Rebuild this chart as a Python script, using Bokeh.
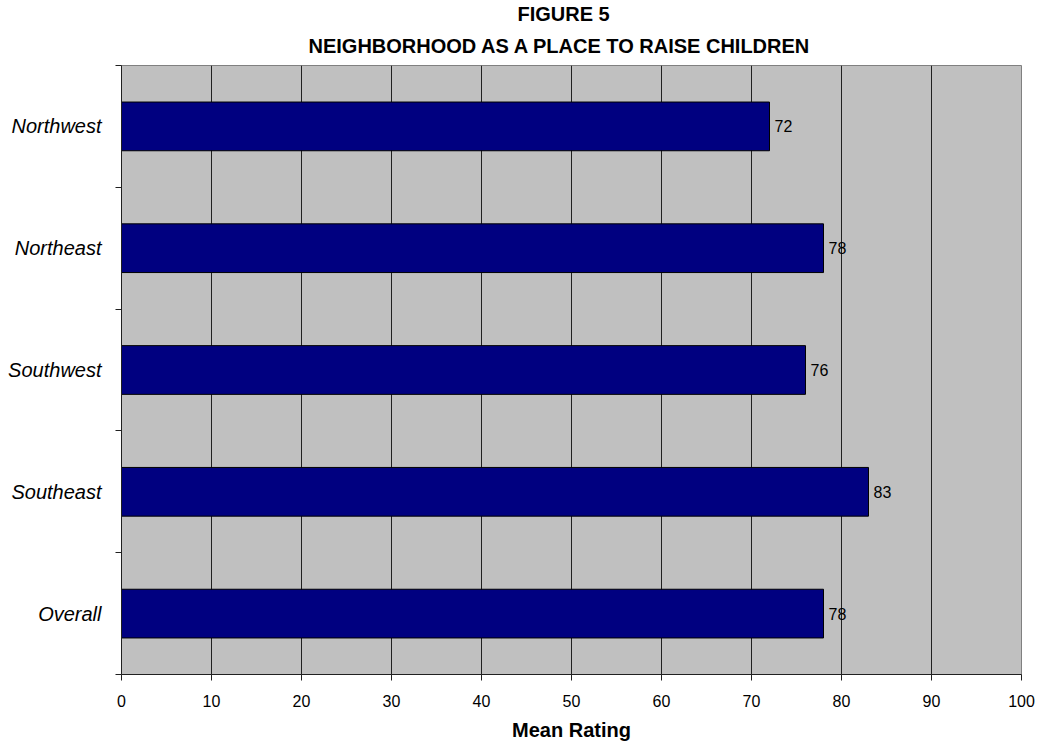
from bokeh.plotting import figure
from bokeh.models import FixedTicker, Title, ColumnDataSource, Range1d
from bokeh.core.properties import value
from bokeh.embed import file_html
from bokeh.resources import INLINE

categories = ["Northwest", "Northeast", "Southwest", "Southeast", "Overall"]
ratings = [72, 78, 76, 83, 78]
x_ticks = [0, 10, 20, 30, 40, 50, 60, 70, 80, 90, 100]
title_line1 = "FIGURE 5"
title_line2 = "NEIGHBORHOOD AS A PLACE TO RAISE CHILDREN"
x_label = "Mean Rating"

FONT = "Liberation Sans"
n = len(categories)
# top-to-bottom order: first category at top
ypos = [n - 1 - i for i in range(n)]
src = ColumnDataSource(dict(y=ypos, v=ratings, t=[str(r) for r in ratings]))

p = figure(width=1037, height=745, output_backend="svg", toolbar_location=None,
           x_range=Range1d(0, 100), y_range=Range1d(-0.5, n - 0.5),
           min_border_left=121, min_border_right=16, min_border_top=64,
           min_border_bottom=71)
p.background_fill_color = "#C0C0C0"
p.border_fill_color = "white"
p.outline_line_color = "#808080"

p.hbar(y="y", right="v", left=0, height=0.4, source=src,
       fill_color="#000080", line_color="black", line_width=1)
p.text(x="v", y="y", text="t", source=src, x_offset=5, text_baseline="middle",
       text_align="left", text_font=value(FONT), text_font_size="16px", text_color="black")

# grid
p.xgrid.ticker = FixedTicker(ticks=x_ticks)
p.xgrid.grid_line_color = "#202020"
p.xgrid.grid_line_width = 1
p.ygrid.grid_line_color = None

# x axis
xa = p.xaxis[0]
xa.ticker = FixedTicker(ticks=x_ticks)
xa.axis_line_color = "#202020"
xa.major_tick_line_color = "#202020"
xa.major_tick_out = 6
xa.major_tick_in = 0
xa.minor_tick_line_color = None
xa.major_label_text_font = FONT
xa.major_label_text_font_size = "16px"
xa.major_label_text_color = "black"
xa.major_label_standoff = 14
xa.axis_label = x_label
xa.axis_label_text_font = FONT
xa.axis_label_text_font_size = "20px"
xa.axis_label_text_font_style = "bold"
xa.axis_label_text_color = "black"
xa.axis_label_standoff = 9

# y axis: labels at category centres, ticks at boundaries
ya = p.yaxis[0]
bounds = [i - 0.5 for i in range(n + 1)]
ya.ticker = FixedTicker(ticks=list(range(n)), minor_ticks=bounds)
ya.major_label_overrides = {y: c for y, c in zip(ypos, categories)}
ya.axis_line_color = "#202020"
ya.major_tick_line_color = None
ya.major_tick_out = 0
ya.minor_tick_line_color = "#202020"
ya.minor_tick_out = 6
ya.minor_tick_in = 0
ya.major_label_text_font = FONT
ya.major_label_text_font_size = "20px"
ya.major_label_text_font_style = "italic"
ya.major_label_text_color = "black"
ya.major_label_standoff = 14

t2 = Title(text=title_line2, align="left", offset=187, text_font=FONT,
           text_font_size="20px", text_font_style="bold", text_color="black", standoff=17)
t1 = Title(text=title_line1, align="left", offset=396, text_font=FONT,
           text_font_size="20px", text_font_style="bold", text_color="black", standoff=0)
p.add_layout(t2, "above")
p.add_layout(t1, "above")
p.title.visible = False

open("out.html", "w").write(file_html(p, INLINE))
